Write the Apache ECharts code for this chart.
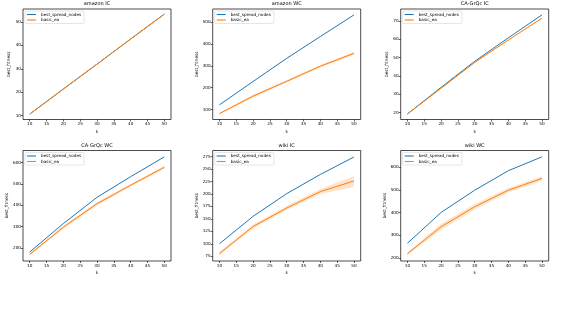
<!DOCTYPE html>
<html>
<head>
<meta charset="utf-8">
<script src="https://cdn.jsdelivr.net/npm/echarts@6/dist/echarts.min.js"></script>
<style>
  html, body { margin: 0; padding: 0; background: #fff; }
  #mainChart { width: 568px; height: 336px; }
</style>
</head>
<body>
<div id="mainChart"></div>
<script>
// x values and tick labels
const ks = [10, 20, 30, 40, 50];
const xTicks = [10, 15, 20, 25, 30, 35, 40, 45, 50];
const titles = ['amazon IC', 'amazon WC', 'CA-GrQc IC', 'CA-GrQc WC', 'wiki IC', 'wiki WC'];

// amazon IC
const amazonIcBest = [10.7, 21.4, 32.0, 42.7, 53.3];
const amazonIcEa = [10.7, 21.4, 32.0, 42.7, 53.3];
const amazonIcLo = [10.5, 21.2, 31.8, 42.5, 53.1];
const amazonIcHi = [10.9, 21.6, 32.2, 42.9, 53.5];
const amazonIcTicks = [10, 20, 30, 40, 50];

// amazon WC
const amazonWcBest = [121, 228, 334, 434, 533];
const amazonWcEa = [81, 161, 229, 298, 357];
const amazonWcLo = [77, 155, 223, 292, 351];
const amazonWcHi = [85, 167, 235, 304, 363];
const amazonWcTicks = [100, 200, 300, 400, 500];

// CA-GrQc IC
const grqcIcBest = [19.3, 33.8, 48.0, 60.8, 73.3];
const grqcIcEa = [19.3, 33.3, 47.4, 59.6, 71.5];
const grqcIcLo = [19.1, 33.1, 47.1, 59.3, 71.2];
const grqcIcHi = [19.5, 33.5, 47.7, 59.9, 71.8];
const grqcIcTicks = [20, 30, 40, 50, 60, 70];

// CA-GrQc WC
const grqcWcBest = [180, 314, 437, 534, 627];
const grqcWcEa = [169, 297, 407, 494, 578];
const grqcWcLo = [164, 290, 399, 488, 571];
const grqcWcHi = [174, 304, 415, 500, 585];
const grqcWcTicks = [200, 300, 400, 500, 600];

// wiki IC
const wikiIcBest = [100, 155, 200.5, 239, 274];
const wikiIcEa = [80.5, 134.6, 171.7, 204.6, 226];
const wikiIcLo = [77.5, 130.6, 167.7, 199.6, 214];
const wikiIcHi = [83.5, 138.6, 175.7, 209.6, 236];
const wikiIcTicks = [75, 100, 125, 150, 175, 200, 225, 250, 275];

// wiki WC
const wikiWcBest = [264, 400, 498, 584, 645];
const wikiWcEa = [218, 337, 425, 498, 550];
const wikiWcLo = [212, 324, 413, 488, 540];
const wikiWcHi = [224, 350, 437, 508, 560];
const wikiWcTicks = [200, 300, 400, 500, 600];

const panels = [
    {best: amazonIcBest, ea: amazonIcEa, lo: amazonIcLo, hi: amazonIcHi, ticks: amazonIcTicks, min: 8.4, max: 55.5},
    {best: amazonWcBest, ea: amazonWcEa, lo: amazonWcLo, hi: amazonWcHi, ticks: amazonWcTicks, min: 54, max: 560},
    {best: grqcIcBest, ea: grqcIcEa, lo: grqcIcLo, hi: grqcIcHi, ticks: grqcIcTicks, min: 16.3, max: 76.5},
    {best: grqcWcBest, ea: grqcWcEa, lo: grqcWcLo, hi: grqcWcHi, ticks: grqcWcTicks, min: 138, max: 657},
    {best: wikiIcBest, ea: wikiIcEa, lo: wikiIcLo, hi: wikiIcHi, ticks: wikiIcTicks, min: 65.5, max: 287},
    {best: wikiWcBest, ea: wikiWcEa, lo: wikiWcLo, hi: wikiWcHi, ticks: wikiWcTicks, min: 186, max: 673}
];

const blue = '#1f77b4';
const orange = '#ff7f0e';
const colLeft = [23, 212.7, 400.7];
const rowTop = [9, 150.5];
const gridW = 148;
const gridH = 110.5;
const font = 'DejaVu Sans';

function pairs(ys) {
    const out = [];
    for (let i = 0; i < ks.length; i++) {
        out.push([ks[i], ys[i]]);
    }
    return out;
}

// 置信带：一次画出整个多边形
function bandRenderer(p) {
    return function (params, api) {
        if (params.dataIndex !== 0) {
            return;
        }
        const pts = [];
        for (let j = 0; j < ks.length; j++) {
            pts.push(api.coord([ks[j], p.hi[j]]));
        }
        for (let j = ks.length - 1; j >= 0; j--) {
            pts.push(api.coord([ks[j], p.lo[j]]));
        }
        return {
            type: 'polygon',
            shape: {points: pts},
            style: {fill: 'rgba(255,127,14,0.22)', stroke: null}
        };
    };
}

const option = {
    animation: false,
    backgroundColor: '#fff',
    title: [], grid: [], xAxis: [], yAxis: [], legend: [], series: []
};

panels.forEach(function (p, i) {
    const left = colLeft[i % 3];
    const top = rowTop[Math.floor(i / 3)];
    option.title.push({
        text: titles[i],
        left: left + gridW / 2,
        top: top - 7.5,
        padding: 0,
        textAlign: 'center',
        textStyle: {fontFamily: font, fontSize: 5, fontWeight: 'normal', color: '#000'}
    });
    option.grid.push({
        left: left, top: top, width: gridW, height: gridH,
        show: true, borderColor: '#000', borderWidth: 0.7
    });
    option.xAxis.push({
        type: 'value', gridIndex: i, min: 8, max: 52,
        name: 'k', nameLocation: 'middle', nameGap: 10,
        nameTextStyle: {fontFamily: font, fontSize: 4.3, color: '#000'},
        axisLine: {show: false},
        splitLine: {show: false},
        axisTick: {length: 2, lineStyle: {color: '#000', width: 0.6}, customValues: xTicks},
        axisLabel: {fontFamily: font, fontSize: 4.2, color: '#000', margin: 2.5, customValues: xTicks}
    });
    option.yAxis.push({
        type: 'value', gridIndex: i, min: p.min, max: p.max,
        name: 'best_fitness', nameLocation: 'middle', nameGap: 12,
        nameTextStyle: {fontFamily: font, fontSize: 4.3, color: '#000'},
        axisLine: {show: false},
        splitLine: {show: false},
        axisTick: {length: 2, lineStyle: {color: '#000', width: 0.6}, customValues: p.ticks},
        axisLabel: {fontFamily: font, fontSize: 4.2, color: '#000', margin: 2, customValues: p.ticks}
    });
    option.legend.push({
        orient: 'vertical',
        left: left + 2, top: top + 2,
        data: ['best_spread_nodes', 'basic_ea'],
        icon: 'rect', itemWidth: 9, itemHeight: 1.1, itemGap: 1.5,
        padding: [1.5, 3, 1.5, 2],
        borderColor: '#ccc', borderWidth: 0.5, borderRadius: 1,
        backgroundColor: '#fff',
        selectedMode: false,
        textStyle: {fontFamily: font, fontSize: 4.2, color: '#000', padding: [0, 0, 0, 0]}
    });
    option.series.push({
        name: 'band' + i, type: 'custom', xAxisIndex: i, yAxisIndex: i,
        data: pairs(p.ea), encode: {x: 0, y: 1},
        renderItem: bandRenderer(p), silent: true, clip: true
    });
    option.series.push({
        name: 'best_spread_nodes', type: 'line', xAxisIndex: i, yAxisIndex: i,
        data: pairs(p.best), symbol: 'none', color: blue,
        lineStyle: {color: blue, width: 1}
    });
    option.series.push({
        name: 'basic_ea', type: 'line', xAxisIndex: i, yAxisIndex: i,
        data: pairs(p.ea), symbol: 'none', color: orange,
        lineStyle: {color: orange, width: 1}
    });
});

const myChart = echarts.init(document.getElementById('mainChart'));
myChart.setOption(option);
</script>
</body>
</html>
